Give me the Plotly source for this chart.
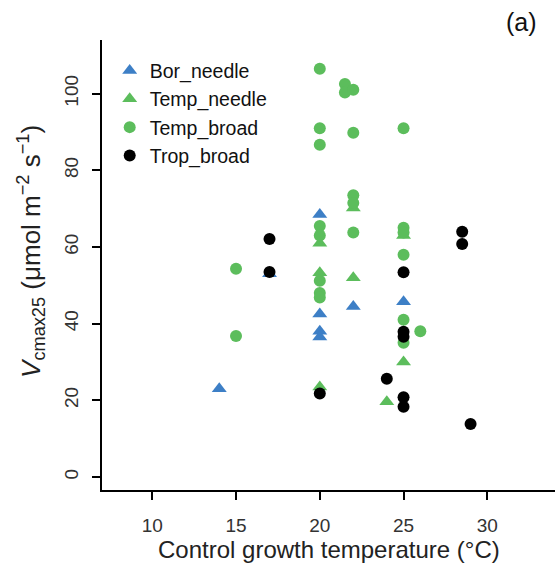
import plotly.graph_objects as go

# Data (x = control growth temperature, y = Vcmax25)
bor_x = [14, 17, 20, 20, 20, 20, 22, 25]
bor_y = [23, 53, 68.5, 42.5, 38, 36.5, 44.5, 45.7]

tn_x = [20, 20, 20, 22, 22, 24, 25, 25]
tn_y = [61, 53.3, 23.5, 70.2, 52, 19.6, 30, 63]

tb_x = [15, 15, 20, 20, 20, 20, 20, 20, 20, 20, 21.5, 21.5, 22, 22, 22, 22, 22,
        25, 25, 25, 25, 25, 25, 26]
tb_y = [54.3, 36.8, 106.5, 91, 86.7, 65.5, 63, 51.2, 48, 46.8, 102.5, 100.3, 101, 89.8, 73.5, 71.5, 63.8,
        91, 65, 63.8, 58, 41, 35, 38]

trb_x = [17, 17, 20, 24, 25, 25, 25, 25, 25, 28.5, 28.5, 29]
trb_y = [62.1, 53.5, 21.8, 25.6, 53.4, 37.9, 36.6, 20.8, 18.3, 64, 60.8, 13.8]

blue = "#3d7fc6"
green = "#5cbd5c"
black = "#000000"
font = "Liberation Sans, Arial, sans-serif"

fig = go.Figure()
fig.add_trace(go.Scatter(x=bor_x, y=bor_y, mode="markers", name="Bor_needle",
                         marker=dict(symbol="triangle-up", size=13, color=blue)))
fig.add_trace(go.Scatter(x=tn_x, y=tn_y, mode="markers", name="Temp_needle",
                         marker=dict(symbol="triangle-up", size=13, color=green)))
fig.add_trace(go.Scatter(x=tb_x, y=tb_y, mode="markers", name="Temp_broad",
                         marker=dict(symbol="circle", size=12, color=green)))
fig.add_trace(go.Scatter(x=trb_x, y=trb_y, mode="markers", name="Trop_broad",
                         marker=dict(symbol="circle", size=12, color=black)))

fig.update_layout(
    width=555, height=572,
    margin=dict(l=102, r=0, t=40, b=82),
    paper_bgcolor="white", plot_bgcolor="white",
    font=dict(family=font, size=19, color="#222"),
    showlegend=True,
    legend=dict(x=0.017, y=0.975, xanchor="left", yanchor="top",
                bgcolor="rgba(0,0,0,0)", font=dict(size=19.5, color="#111"),
                itemwidth=30, tracegroupgap=0),
    xaxis=dict(range=[7, 34.04], tickvals=[10, 15, 20, 25, 30],
               showline=True, linecolor="black", linewidth=2,
               ticks="outside", ticklen=8, tickwidth=1.5, tickcolor="black",
               showgrid=False, zeroline=False, ticklabelstandoff=9,
               tickfont=dict(size=19, color="#333")),
    yaxis=dict(range=[-3.4, 114], tickvals=[0, 20, 40, 60, 80, 100],
               showline=True, linecolor="black", linewidth=2,
               ticks="outside", ticklen=8, tickwidth=1.5, tickcolor="black",
               showgrid=False, zeroline=False, tickangle=-90, ticklabelstandoff=6,
               tickfont=dict(size=19, color="#333")),
)

fig.add_annotation(text="Control growth temperature (°C)", xref="paper", yref="paper",
                   x=0.5, y=-0.133, xanchor="center", yanchor="middle", showarrow=False,
                   font=dict(size=24, color="#222"))
fig.add_annotation(text="<i>V</i><sub>cmax25</sub> (μmol m<sup>−2</sup> s<sup>−1</sup>)",
                   xref="paper", yref="paper", x=-0.158, y=0.53, xanchor="center", yanchor="middle",
                   textangle=-90, showarrow=False, font=dict(size=26, color="#222"))
fig.add_annotation(text="(a)", xref="paper", yref="paper", x=0.926, y=1.04,
                   xanchor="center", yanchor="middle", showarrow=False,
                   font=dict(size=25, color="#111"))

fig.write_html("out.html")
